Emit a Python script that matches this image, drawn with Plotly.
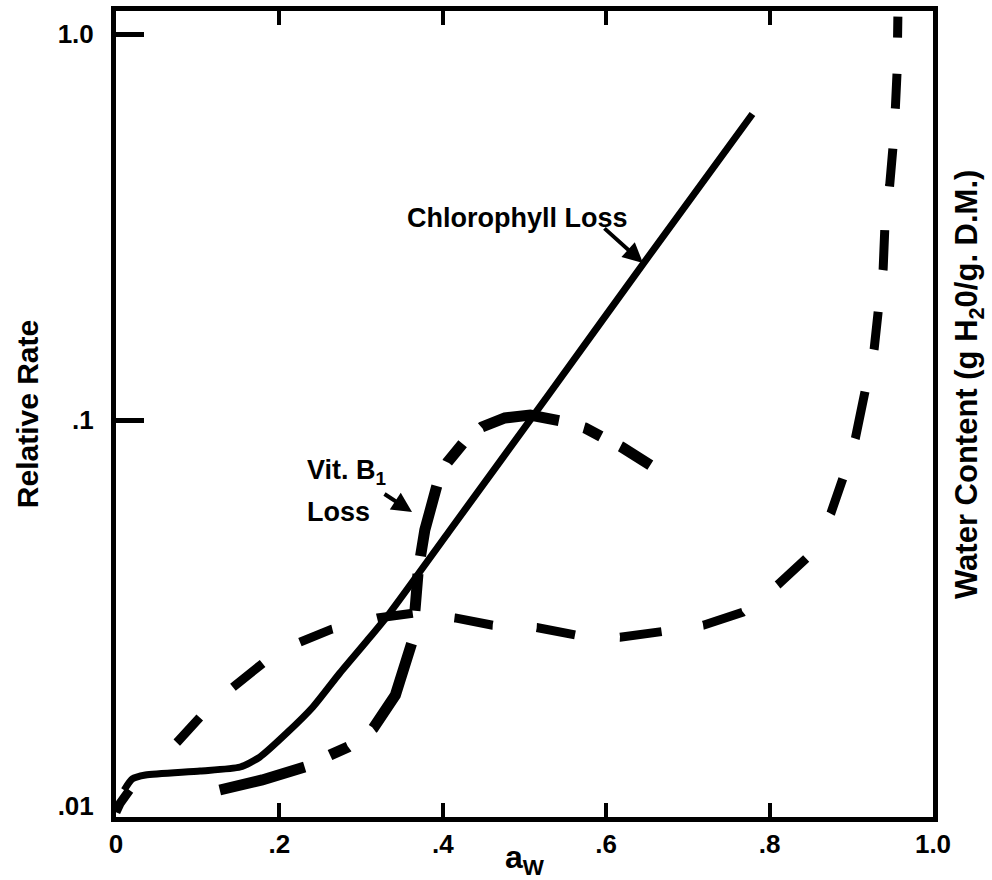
import plotly.graph_objects as go

# ---- data ----
# Chlorophyll loss (relative rate, log axis)
aw_chl = [0.010, 0.020, 0.036, 0.103, 0.152, 0.176, 0.209, 0.241, 0.274, 0.307, 0.335, 0.409, 0.531, 0.654, 0.779]
rate_chl = [0.0110, 0.01175, 0.01203, 0.01232, 0.01262, 0.01339, 0.01545, 0.01805, 0.02211, 0.02676, 0.03162, 0.05188, 0.1175, 0.2692, 0.6204]

# Vitamin B1 loss (relative rate, log axis)
aw_b1 = [0.127, 0.179, 0.231, 0.262, 0.284, 0.315, 0.342, 0.362, 0.366, 0.370, 0.378, 0.393,
         0.406, 0.425, 0.448, 0.476, 0.507, 0.544, 0.574, 0.595, 0.619, 0.654]
rate_b1 = [0.0110, 0.01168, 0.01262, 0.01355, 0.01422, 0.01592, 0.01939, 0.02644, 0.03220, 0.04088, 0.05188, 0.06785,
           0.07782, 0.08717, 0.09592, 0.1012, 0.1030, 0.0994, 0.09535, 0.09036, 0.08511, 0.07643]

# Water content (sorption isotherm, unlabelled right axis, relative units)
aw_water = [0.000, 0.005, 0.017, 0.075, 0.103, 0.143, 0.180, 0.225, 0.264, 0.320, 0.364, 0.415, 0.461,
            0.515, 0.562, 0.617, 0.668, 0.719, 0.767, 0.810, 0.845, 0.875, 0.890, 0.905, 0.917, 0.928,
            0.933, 0.939, 0.941, 0.947, 0.951, 0.954, 0.956, 0.957]
water = [0.006, 0.017, 0.034, 0.093, 0.124, 0.161, 0.191, 0.217, 0.233, 0.247, 0.253, 0.247, 0.238,
         0.235, 0.226, 0.223, 0.230, 0.238, 0.254, 0.288, 0.321, 0.377, 0.421, 0.470, 0.529, 0.581,
         0.628, 0.680, 0.730, 0.784, 0.831, 0.881, 0.924, 0.993]

x_ticks = [0, 0.2, 0.4, 0.6, 0.8, 1.0]
x_ticktext = ["0", ".2", ".4", ".6", ".8", "1.0"]
y_labels = [0.01, 0.1, 1.0]
y_labeltext = [".01", ".1", "1.0"]
y_tickmarks = [0.1, 1.0]

FONT = "Liberation Sans, Arial, Helvetica, sans-serif"

b1_dash = "88px,28px,20px,31px,94px,33px,37px,18px,72px,26px,24px,25px,80px,26px,19px,22px,40px"
water_dash = ("26px,67px,34px,45px,38px,43px,35px,46px,36px,42px,39px,44px,39px,45px,42px,42px,42px,"
              "44px,39px,51px,37px,42px,48px,43px,38px,42px,40px,44px,38px,40px,35px,36px,40px,40px")

fig = go.Figure()
fig.add_trace(go.Scatter(x=aw_water, y=water, yaxis="y2", mode="lines",
                         line=dict(color="black", width=9, dash=water_dash, simplify=False),
                         name="Water Content", showlegend=False))
fig.add_trace(go.Scatter(x=aw_b1, y=rate_b1, mode="lines",
                         line=dict(color="black", width=11, dash=b1_dash, simplify=False),
                         name="Vit. B1 Loss", showlegend=False))
fig.add_trace(go.Scatter(x=aw_chl, y=rate_chl, mode="lines",
                         line=dict(color="black", width=7, shape="spline", smoothing=0.6),
                         name="Chlorophyll Loss", showlegend=False))

fig.update_layout(
    width=992, height=880,
    margin=dict(l=116, r=59, t=11, b=63, autoexpand=False),
    paper_bgcolor="white", plot_bgcolor="white",
    font=dict(family=FONT, color="black", size=26, weight="bold"),
    xaxis=dict(range=[0, 1.0], tickvals=x_ticks, ticktext=x_ticktext, automargin=False,
               ticks="inside", ticklen=14, tickwidth=4, tickcolor="black",
               showline=True, linewidth=5, linecolor="black", mirror="ticks",
               showgrid=False, zeroline=False, ticklabelstandoff=0,
               tickfont=dict(size=26, family=FONT, weight="bold"),
               title=dict(text="a<sub>W</sub>", font=dict(size=32, family=FONT, weight="bold"), standoff=0)),
    yaxis=dict(type="log", range=[-2.0285, 0.0596], tickvals=y_labels, ticktext=y_labeltext,
               automargin=False, ticks="",
               minor=dict(tickvals=y_tickmarks, ticks="inside", ticklen=28, tickwidth=5,
                          tickcolor="black", showgrid=False),
               showline=True, linewidth=5, linecolor="black", mirror=True,
               showgrid=False, zeroline=False, ticklabelstandoff=12,
               tickfont=dict(size=26, family=FONT, weight="bold"),
               title=dict(text="Relative Rate", font=dict(size=30, family=FONT, weight="bold"), standoff=12)),
    yaxis2=dict(range=[0, 1.0], overlaying="y", side="right", showticklabels=False, automargin=False,
                ticks="", showline=False, showgrid=False, zeroline=False),
)

fig.add_annotation(x=1.0441, y=0.536, xref="paper", yref="paper", textangle=-90,
                   xanchor="center", yanchor="middle",
                   text="Water Content (g H<sub>2</sub>0/g. D.M.)", showarrow=False,
                   font=dict(size=31, family=FONT, weight="bold"))
fig.add_annotation(x=0.491, y=0.743, xref="paper", yref="paper", text="Chlorophyll Loss",
                   xanchor="center", yanchor="middle",
                   showarrow=False, font=dict(size=27, family=FONT, weight="bold"))
fig.add_annotation(x=0.645, y=-0.5933, xref="x", yref="y", text="", showarrow=True,
                   ax=-40, ay=-36, arrowhead=2, arrowsize=1, arrowwidth=4, arrowcolor="black")
fig.add_annotation(x=0.2313, y=0.428, xref="paper", yref="paper", xanchor="left", yanchor="middle",
                   text="Vit. B<sub>1</sub>", align="left", showarrow=False,
                   font=dict(size=27, family=FONT, weight="bold"))
fig.add_annotation(x=0.2313, y=0.378, xref="paper", yref="paper", xanchor="left", yanchor="middle",
                   text="Loss", align="left", showarrow=False,
                   font=dict(size=27, family=FONT, weight="bold"))
fig.add_annotation(x=0.3623, y=-1.2383, xref="x", yref="y", text="", showarrow=True,
                   ax=-29, ay=-19, arrowhead=2, arrowsize=1, arrowwidth=4, arrowcolor="black")

fig.write_html("out.html")
